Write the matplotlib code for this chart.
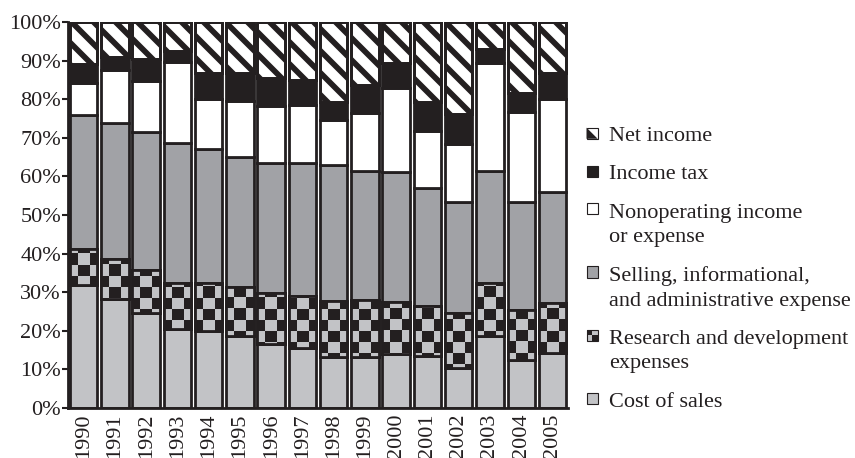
import numpy as np
import matplotlib
matplotlib.use('Agg')
import matplotlib.pyplot as plt
from matplotlib.colors import ListedColormap
from matplotlib.collections import LineCollection
from matplotlib.patches import Rectangle, Polygon
from matplotlib.legend_handler import HandlerBase

years = ['1990', '1991', '1992', '1993', '1994', '1995', '1996', '1997',
         '1998', '1999', '2000', '2001', '2002', '2003', '2004', '2005']

# shares of revenue, %
cost_of_sales = [31.9, 28.3, 24.7, 20.6, 20.0, 18.7, 16.6, 15.6,
                 13.3, 13.3, 14.0, 13.5, 10.5, 18.7, 12.4, 14.3]
research_dev = [9.2, 10.2, 11.1, 11.9, 12.3, 12.7, 13.1, 13.4,
                14.4, 14.7, 13.5, 13.0, 14.0, 13.8, 13.0, 13.0]
selling_admin = [34.8, 35.4, 35.7, 36.1, 34.7, 33.6, 33.7, 34.5,
                 35.3, 33.5, 33.7, 30.6, 28.9, 29.0, 28.0, 28.7]
nonoperating = [8.4, 13.7, 13.2, 21.1, 13.0, 14.6, 14.9, 14.9,
                11.6, 15.0, 21.6, 14.7, 15.0, 27.8, 23.2, 24.0]
income_tax = [4.8, 3.4, 5.6, 2.9, 6.7, 7.1, 7.3, 6.7,
              4.6, 7.2, 6.7, 7.6, 7.7, 3.7, 4.9, 6.7]
net_income = [10.9, 9.0, 9.7, 7.4, 13.3, 13.3, 14.4, 14.9,
              20.8, 16.3, 10.5, 20.6, 23.9, 7.0, 18.5, 13.3]

dark = '#231f20'
light_gray = '#c2c3c6'
mid_gray = '#a1a2a6'

plt.rcParams['font.family'] = ['Liberation Serif', 'DejaVu Serif']

fig = plt.figure(figsize=(8.55, 4.58), dpi=100)
ax = fig.add_axes([0.0795, 0.109, 0.585, 0.843])
ax.set_xlim(-0.5, len(years) - 0.5)
ax.set_ylim(0, 100)

x = np.arange(len(years))
w = 0.88
ew = 2.0
b = np.zeros(len(years))

ax.bar(x, cost_of_sales, w, bottom=b, color=light_gray, edgecolor=dark, linewidth=ew, zorder=2)
b += cost_of_sales

# checkerboard for R&D: image clipped to each bar
rd_bars = ax.bar(x, research_dev, w, bottom=b, color=light_gray, edgecolor=dark, linewidth=ew, zorder=2)
checker = np.indices((35, 3)).sum(axis=0) % 2
cmap = ListedColormap([light_gray, dark])
for xi, patch in zip(x, rd_bars.patches):
    im = ax.imshow(checker, extent=(xi - 0.53, xi + 0.53, 0, 100), cmap=cmap,
                   aspect='auto', interpolation='nearest', origin='lower', zorder=2.5)
    im.set_clip_path(patch)
ax.bar(x, research_dev, w, bottom=b, fill=False, edgecolor=dark, linewidth=ew, zorder=3)
b += research_dev

ax.bar(x, selling_admin, w, bottom=b, color=mid_gray, edgecolor=dark, linewidth=ew, zorder=2)
b += selling_admin
ax.bar(x, nonoperating, w, bottom=b, color='white', edgecolor=dark, linewidth=ew, zorder=2)
b += nonoperating
ax.bar(x, income_tax, w, bottom=b, color=dark, edgecolor=dark, linewidth=ew, zorder=2)
b += income_tax

# net income: wide diagonal stripes clipped to each bar
net_bars = ax.bar(x, net_income, w, bottom=b, color='white', edgecolor=dark, linewidth=ew, zorder=2)
p0 = ax.transData.transform((0, 0))
px_x = ax.transData.transform((1, 0))[0] - p0[0]
px_y = ax.transData.transform((0, 1))[1] - p0[1]
period = 22  # px, vertical distance between stripes
xs = np.array([-0.6, len(years) - 0.4])
segs = []
for c in np.arange(0, 1000 + 600, period):
    segs.append(np.column_stack([xs, (c - xs * px_x) / px_y]))
for patch in net_bars.patches:
    lc = LineCollection(segs, colors=dark, linewidths=4.1, zorder=2.5)
    ax.add_collection(lc, autolim=False)
    lc.set_clip_path(patch)
ax.bar(x, net_income, w, bottom=b, fill=False, edgecolor=dark, linewidth=ew, zorder=3)

ax.set_xlim(-0.5, len(years) - 0.5)
ax.set_ylim(0, 100)
ax.set_yticks(range(0, 101, 10))
ax.set_yticklabels([f'{v}%' for v in range(0, 101, 10)])
ax.set_xticks(x)
ax.set_xticklabels(years, rotation=90)
ax.tick_params(axis='y', length=4, width=1.5, pad=1, labelsize=16, colors=dark)
ax.tick_params(axis='x', length=0, pad=4, labelsize=16, colors=dark)
for s in ['top', 'right']:
    ax.spines[s].set_visible(False)
for s in ['left', 'bottom']:
    ax.spines[s].set_linewidth(2)
    ax.spines[s].set_color(dark)
    ax.spines[s].set_zorder(4)

line_sp = 1.4


class SquareHandler(HandlerBase):
    def __init__(self, kind, color, lines=1):
        super().__init__()
        self.kind = kind
        self.color = color
        self.lines = lines

    def create_artists(self, legend, orig_handle, xdescent, ydescent, width, height, fontsize, trans):
        s = min(width, height)
        x0 = -xdescent
        y0 = -ydescent + (height - s) / 2 + (self.lines - 1) * 0.5 * line_sp * fontsize
        arts = []
        if self.kind == 'checker':
            h = s / 2
            for i in range(2):
                for j in range(2):
                    c = dark if (i + j) % 2 == 0 else light_gray
                    arts.append(Rectangle((x0 + i * h, y0 + (1 - j) * h), h, h, facecolor=c,
                                          edgecolor='none', transform=trans))
            arts.append(Rectangle((x0, y0), s, s, facecolor='none', edgecolor=dark,
                                  linewidth=0.8, transform=trans))
        elif self.kind == 'tri':
            arts.append(Rectangle((x0, y0), s, s, facecolor='white', edgecolor=dark,
                                  linewidth=0.8, transform=trans))
            arts.append(Polygon([(x0, y0), (x0, y0 + s), (x0 + s, y0)], closed=True,
                                facecolor=dark, edgecolor='none', transform=trans))
        else:
            arts.append(Rectangle((x0, y0), s, s, facecolor=self.color, edgecolor=dark,
                                  linewidth=0.8, transform=trans))
        return arts


labels = ['Net income', 'Income tax', 'Nonoperating income\nor expense',
          'Selling, informational,\nand administrative expense',
          'Research and development\nexpenses', 'Cost of sales']
handlers = [SquareHandler('tri', 'white'), SquareHandler('solid', dark),
            SquareHandler('solid', 'white', 2), SquareHandler('solid', mid_gray, 2),
            SquareHandler('checker', light_gray, 2), SquareHandler('solid', light_gray)]
handles = [Rectangle((0, 0), 1, 1) for _ in labels]
leg = fig.legend(handles, labels, handler_map={h: hd for h, hd in zip(handles, handlers)},
                 loc='upper left', bbox_to_anchor=(0.686, 0.723), frameon=False,
                 fontsize=16, handlelength=0.5, handleheight=0.5, handletextpad=0.5,
                 labelspacing=0.86, borderpad=0, borderaxespad=0)
for t in leg.get_texts():
    t.set_color(dark)
    t.set_linespacing(line_sp)

fig.savefig('out.png', dpi=100)
